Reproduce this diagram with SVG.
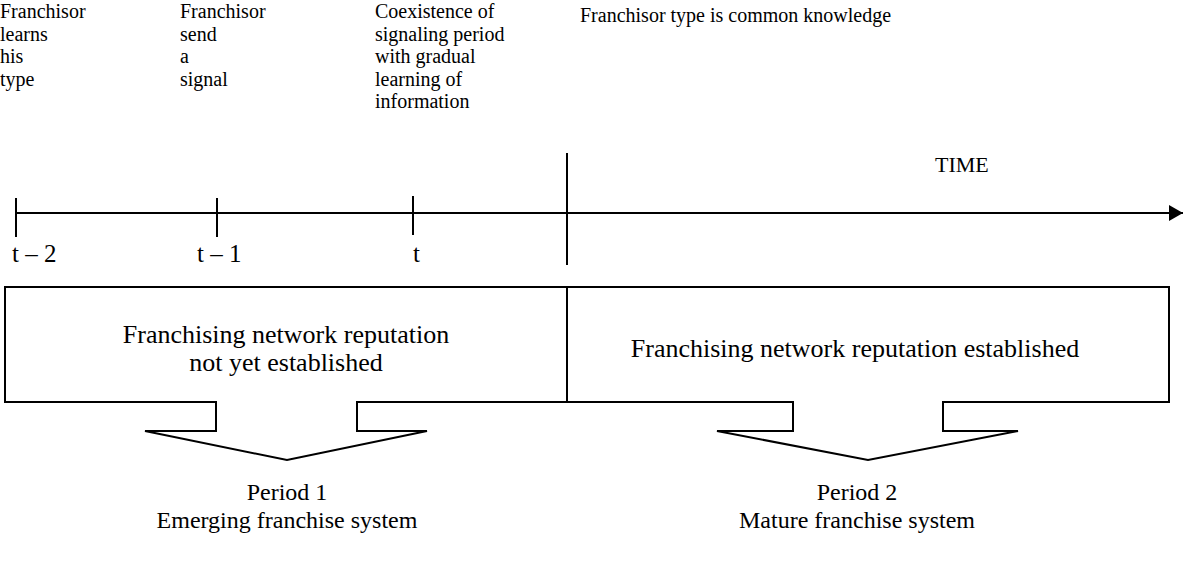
<svg xmlns="http://www.w3.org/2000/svg" width="1184" height="563" viewBox="0 0 1184 563">
<style>
text{font-family:"Liberation Serif","Times New Roman",serif;fill:#000}
.s{font-size:20px}
.l{font-size:24px}
.t{font-size:25px}
.b{font-size:26px}
.c{text-anchor:middle}
.ln{stroke:#000;stroke-width:2;fill:none}
.bx{stroke:#000;stroke-width:2;fill:#fff}
</style>
<defs>
<marker id="ah" markerWidth="14" markerHeight="16" refX="14" refY="8" orient="auto" markerUnits="userSpaceOnUse">
<path d="M0,0 L14,8 L0,16 Z" fill="#000"/>
</marker>
</defs>
<g id="top-labels">
<text class="s" x="0" y="18"><tspan x="0">Franchisor</tspan><tspan x="0" dy="22.5">learns</tspan><tspan x="0" dy="22.5">his</tspan><tspan x="0" dy="22.5">type</tspan></text>
<text class="s" x="180" y="18"><tspan x="180">Franchisor</tspan><tspan x="180" dy="22.5">send</tspan><tspan x="180" dy="22.5">a</tspan><tspan x="180" dy="22.5">signal</tspan></text>
<text class="s" x="375" y="18"><tspan x="375">Coexistence of</tspan><tspan x="375" dy="22.5">signaling period</tspan><tspan x="375" dy="22.5">with gradual</tspan><tspan x="375" dy="22.5">learning of</tspan><tspan x="375" dy="22.5">information</tspan></text>
<text class="s" x="580" y="22">Franchisor type is common knowledge</text>
<text class="l" x="935" y="172" style="font-size:22px">TIME</text>
</g>
<g id="connectors">
<line class="ln" x1="16" y1="213" x2="1183" y2="213" marker-end="url(#ah)"/>
<line class="ln" x1="16" y1="198" x2="16" y2="237"/>
<line class="ln" x1="217" y1="198" x2="217" y2="237"/>
<line class="ln" x1="413" y1="196" x2="413" y2="235"/>
<line class="ln" x1="567" y1="153" x2="567" y2="265"/>
</g>
<g id="tick-labels">
<text class="t" x="12" y="262">t – 2</text>
<text class="t" x="197" y="262">t – 1</text>
<text class="t" x="413" y="262">t</text>
</g>
<g id="period1">
<path class="bx" d="M5,287 H567 V402 H357 V431 H427 L287,460 L145,431 H216 V402 H5 Z"/>
<text class="b c" x="286" y="343">Franchising network reputation</text>
<text class="b c" x="286" y="371">not yet established</text>
<text class="l c" x="287" y="500">Period 1</text>
<text class="l c" x="287" y="528">Emerging franchise system</text>
</g>
<g id="period2">
<path class="bx" d="M567,287 H1169 V402 H943 V431 H1018 L868,460 L717,431 H793 V402 H567 Z"/>
<text class="b c" x="855" y="357">Franchising network reputation established</text>
<text class="l c" x="857" y="500">Period 2</text>
<text class="l c" x="857" y="528">Mature franchise system</text>
</g>
</svg>
